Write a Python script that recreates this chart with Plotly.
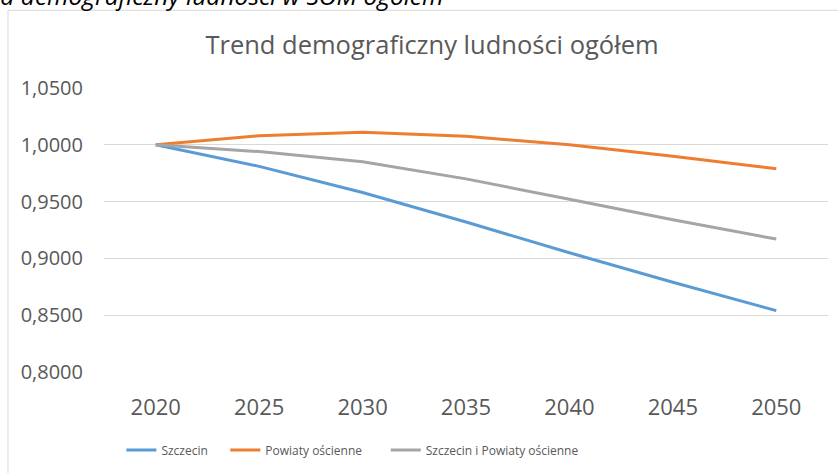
import plotly.graph_objects as go

years = ["2020", "2025", "2030", "2035", "2040", "2045", "2050"]
szczecin = [1.0000, 0.9810, 0.9580, 0.9320, 0.9050, 0.8790, 0.8540]
powiaty = [1.0000, 1.0080, 1.0110, 1.0075, 1.0000, 0.9900, 0.9790]
razem = [1.0000, 0.9940, 0.9850, 0.9700, 0.9520, 0.9340, 0.9170]
y_ticks = [0.80, 0.85, 0.90, 0.95, 1.00, 1.05]
y_labels = ["0,8000", "0,8500", "0,9000", "0,9500", "1,0000", "1,0500"]

FONT = "'Open Sans', sans-serif"
GREY_TXT = "#595959"
NB = "\u00a0"  # odstęp między pozycjami legendy jak w Excelu

fig = go.Figure()
for name, pad, vals, color in [
    ("Szczecin", 4, szczecin, "#5B9BD5"),
    ("Powiaty ościenne", 6, powiaty, "#ED7D31"),
    ("Szczecin i Powiaty ościenne", 0, razem, "#A5A5A5"),
]:
    fig.add_trace(
        go.Scatter(
            x=years,
            y=vals,
            name=name + NB * pad,
            mode="lines",
            line=dict(color=color, width=3),
        )
    )

# ramka wykresu (obcięta z prawej i od dołu)
fig.add_shape(
    type="rect",
    xref="paper",
    yref="paper",
    x0=-0.1326,
    x1=1.2,
    y0=-0.6,
    y1=1.2737,
    line=dict(color="#D9D9D9", width=1),
    layer="below",
)

# podpis ryciny z dokumentu, częściowo ucięty u góry
fig.add_annotation(
    text="<i>Trend demograficzny ludności w SOM ogółem</i>",
    xref="paper",
    yref="paper",
    x=0.471,
    y=1.262,
    xanchor="right",
    yanchor="bottom",
    showarrow=False,
    font=dict(family=FONT, size=24.5, color="#000000"),
)

fig.update_layout(
    width=838,
    height=473,
    margin=dict(l=104, r=10, t=88, b=100),
    paper_bgcolor="white",
    plot_bgcolor="white",
    font=dict(family=FONT, color=GREY_TXT),
    title=dict(
        text="Trend demograficzny ludności ogółem",
        x=432 / 838,
        xanchor="center",
        y=1 - 45 / 473,
        yanchor="middle",
        font=dict(family=FONT, size=25.5, color=GREY_TXT),
    ),
    xaxis=dict(
        type="category",
        range=[-0.5, 6.5],
        showgrid=False,
        showline=False,
        ticks="",
        tickfont=dict(size=22, color=GREY_TXT),
        ticklabelstandoff=20,
    ),
    yaxis=dict(
        range=[0.8, 1.05],
        tickvals=y_ticks,
        ticktext=y_labels,
        showgrid=True,
        gridcolor="#D9D9D9",
        gridwidth=1,
        zeroline=False,
        showline=False,
        ticks="",
        tickfont=dict(size=20, color=GREY_TXT),
        ticklabelstandoff=20,
    ),
    legend=dict(
        orientation="h",
        x=0.024,
        xanchor="left",
        y=-0.27,
        yanchor="middle",
        font=dict(size=12, color=GREY_TXT),
        itemwidth=30,
        tracegroupgap=0,
    ),
    showlegend=True,
)

fig.write_html(
    "out.html",
    config={"displayModeBar": False},
    post_script="document.body.style.margin='0';",
)
